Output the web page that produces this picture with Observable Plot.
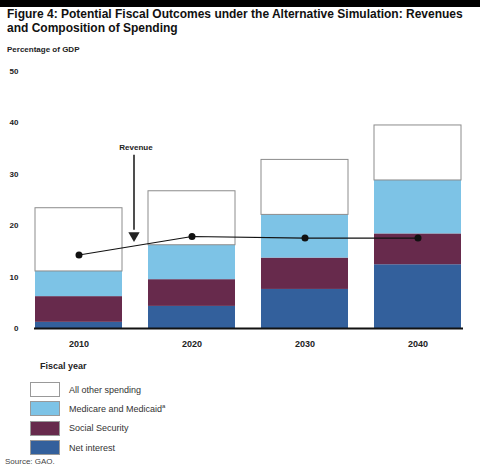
<!DOCTYPE html>
<html>
<head>
<meta charset="utf-8">
<script src="https://cdn.jsdelivr.net/npm/d3@7"></script>
<script src="https://cdn.jsdelivr.net/npm/@observablehq/plot@0.6"></script>
<style>
  html, body { margin: 0; padding: 0; background: #fff; }
  body { width: 480px; height: 468px; position: relative; overflow: hidden; font-family: "Liberation Sans", Arial, Helvetica, sans-serif; }
  #topbar { position: absolute; left: 0; top: 0; width: 480px; height: 7px; background: #000; }
  #title { position: absolute; left: 7px; top: 8px; font-weight: bold; font-size: 12px; line-height: 13.5px; color: #111; }
  #ylabel { position: absolute; left: 7px; top: 45px; font-weight: bold; font-size: 8px; color: #222; }
  #chart { position: absolute; left: 0; top: 60px; }
  #xlabel { position: absolute; left: 40px; top: 361px; font-weight: bold; font-size: 9px; color: #222; }
  #legend { position: absolute; left: 30px; top: 380px; }
  .row { display: flex; align-items: center; height: 19.3px; }
  .sw { width: 30px; height: 15px; box-sizing: border-box; border: 1px solid #999; margin-right: 9px; }
  .lab { font-size: 9px; color: #333; }
  #source { position: absolute; left: 5px; top: 457px; font-size: 8px; line-height: 9px; color: #444; }
</style>
</head>
<body>
<div id="topbar"></div>
<div id="title">Figure 4: Potential Fiscal Outcomes under the Alternative Simulation: Revenues<br>and Composition of Spending</div>
<div id="ylabel">Percentage of GDP</div>
<div id="chart"></div>
<div id="xlabel">Fiscal year</div>
<div id="legend"></div>
<div id="source">Source: GAO.</div>
<script>
const years = ["2010", "2020", "2030", "2040"];
const netInterest = [1.2, 4.3, 7.6, 12.4];
const socialSecurity = [5.0, 5.2, 6.1, 6.0];
const medicare = [4.9, 6.7, 8.4, 10.4];
const allOther = [12.3, 10.5, 10.7, 10.7];
const revenue = [14.3, 17.9, 17.6, 17.6];
const categories = ["Net interest", "Social Security", "Medicare and Medicaid", "All other spending"];
const colors = ["#33609c", "#672a4c", "#7dc3e6", "#ffffff"];
const yTicks = [0, 10, 20, 30, 40, 50];
const annotationLabel = "Revenue";
const annotationTop = 33.7;
const annotationTip = 17.1;
const annotationTextY = 35.2;

const seriesList = [netInterest, socialSecurity, medicare, allOther];
const segments = [];
years.forEach((yr, i) => {
  categories.forEach((c, k) => {
    segments.push({year: yr, cat: c, value: seriesList[k][i]});
  });
});
const otherBoxes = years.map((yr, i) => {
  const base = netInterest[i] + socialSecurity[i] + medicare[i];
  return {year: yr, y1: base, y2: base + allOther[i]};
});
const revData = years.map((yr, i) => ({year: yr, value: revenue[i]}));

const chart = Plot.plot({
  width: 480,
  height: 300,
  marginTop: 11,
  marginBottom: 32,
  marginLeft: 34,
  marginRight: 17,
  style: {fontFamily: '"Liberation Sans", Arial, Helvetica, sans-serif', background: "transparent"},
  x: {type: "band", domain: years, paddingInner: 0.226, paddingOuter: 0, label: null},
  y: {domain: [0, 50], label: null},
  color: {domain: categories, range: colors},
  marks: [
    Plot.barY(segments, Plot.stackY({x: "year", y: "value", fill: "cat", order: null})),
    Plot.barY(otherBoxes, {x: "year", y1: "y1", y2: "y2", fill: "none", stroke: "#8c8c8c", strokeWidth: 1}),
    Plot.ruleY([0], {stroke: "#111", strokeWidth: 2}),
    Plot.line(revData, {x: "year", y: "value", stroke: "#111", strokeWidth: 1.2}),
    Plot.dot(revData, {x: "year", y: "value", fill: "#111", r: 3.5}),
    Plot.ruleX([years[0]], {x: d => d, y1: annotationTop, y2: annotationTip + 2, dx: 55, stroke: "#222", strokeWidth: 1.6}),
    Plot.dot([years[0]], {x: d => d, y: annotationTip + 1, dx: 55, symbol: "triangle", rotate: 180, r: 4.2, fill: "#222", stroke: "none"}),
    Plot.text([annotationLabel], {x: () => years[0], y: annotationTextY, dx: 57, text: d => d, fontWeight: "bold", fontSize: 8, fill: "#222"}),
    Plot.axisY({ticks: yTicks, tickSize: 0, tickPadding: 16, fontSize: 8, fontWeight: "bold", fill: "#222"}),
    Plot.axisX({tickSize: 0, tickPadding: 12, fontSize: 9, fontWeight: "bold", fill: "#222"})
  ]
});
document.getElementById("chart").appendChild(chart);

const legendOrder = [3, 2, 1, 0];
const legend = document.getElementById("legend");
legendOrder.forEach(k => {
  const row = document.createElement("div");
  row.className = "row";
  const sw = document.createElement("div");
  sw.className = "sw";
  sw.style.background = colors[k];
  const lab = document.createElement("div");
  lab.className = "lab";
  if (categories[k] === "Medicare and Medicaid") {
    lab.innerHTML = categories[k] + "<sup style='font-size:6px'>a</sup>";
  } else {
    lab.textContent = categories[k];
  }
  row.appendChild(sw);
  row.appendChild(lab);
  legend.appendChild(row);
});
</script>
</body>
</html>
